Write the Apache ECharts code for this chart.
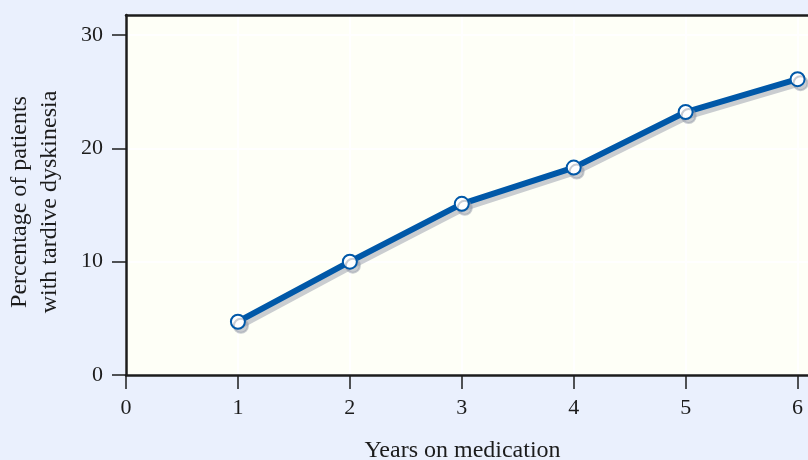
<!DOCTYPE html>
<html>
<head>
<meta charset="utf-8">
<script src="https://cdn.jsdelivr.net/npm/echarts@6/dist/echarts.min.js"></script>
<style>
  html, body { margin: 0; padding: 0; background: #eaf0fd; }
  #main { width: 808px; height: 460px; }
</style>
</head>
<body>
<div id="main"></div>
<script>
// data
var years = [1, 2, 3, 4, 5, 6];
var percent = [4.7, 10.0, 15.1, 18.3, 23.2, 26.1];
var xTicks = [0, 1, 2, 3, 4, 5, 6];
var yTicks = [0, 10, 20, 30];

var points = years.map(function (y, i) { return [y, percent[i]]; });

var font = '"Liberation Serif", "DejaVu Serif", serif';
var ink = '#1c1c1c';
var blue = '#0058a8';
var shade = 'rgba(150,155,170,0.5)';

var myChart = echarts.init(document.getElementById('main'));
var option = {
    backgroundColor: '#eaf0fd',
    animation: false,
    grid: {
        left: 126,
        right: -3,
        top: 15,
        bottom: 85,
        outerBoundsMode: 'none',
        containLabel: false,
        show: true,
        backgroundColor: '#fefff7',
        borderWidth: 0
    },
    xAxis: [{
        type: 'value',
        min: 0,
        max: 6.12,
        name: 'Years on medication',
        nameLocation: 'middle',
        nameGap: 64,
        nameTextStyle: { fontFamily: font, fontSize: 24, color: ink, padding: [0, 12, 0, 0] },
        axisLine: { show: true, lineStyle: { color: ink, width: 2.5 } },
        axisTick: { show: true, inside: false, length: 14, customValues: xTicks, lineStyle: { color: ink, width: 1.5 } },
        axisLabel: { customValues: xTicks, fontFamily: font, fontSize: 22, color: ink, margin: 22 },
        splitLine: { show: true, lineStyle: { color: '#ffffff', width: 2 } }
    }, {
        // top border only
        type: 'value',
        position: 'top',
        min: 0,
        max: 6.12,
        axisLine: { show: true, lineStyle: { color: ink, width: 2.5 } },
        axisTick: { show: false },
        axisLabel: { show: false },
        splitLine: { show: false }
    }],
    yAxis: {
        type: 'value',
        min: 0,
        max: 31.76,
        name: 'Percentage of patients\nwith tardive dyskinesia',
        nameLocation: 'middle',
        nameGap: 61,
        nameTextStyle: { fontFamily: font, fontSize: 24, color: ink, lineHeight: 30, padding: [0, 14, 0, 0] },
        axisLine: { show: true, lineStyle: { color: ink, width: 2.5 } },
        axisTick: { show: true, inside: false, length: 14, customValues: yTicks, lineStyle: { color: ink, width: 1.5 } },
        axisLabel: { customValues: yTicks, fontFamily: font, fontSize: 22, color: ink, margin: 23 },
        splitLine: { show: true, lineStyle: { color: '#ffffff', width: 2 } }
    },
    series: [{
        type: 'line',
        data: points,
        symbol: 'circle',
        symbolSize: 14,
        lineStyle: {
            color: blue,
            width: 6,
            shadowColor: shade,
            shadowBlur: 0,
            shadowOffsetX: 3,
            shadowOffsetY: 4
        },
        itemStyle: {
            color: '#ffffff',
            borderColor: blue,
            borderWidth: 2,
            shadowColor: shade,
            shadowBlur: 0,
            shadowOffsetX: 3,
            shadowOffsetY: 4
        },
        z: 3
    }]
};
myChart.setOption(option);
</script>
</body>
</html>
